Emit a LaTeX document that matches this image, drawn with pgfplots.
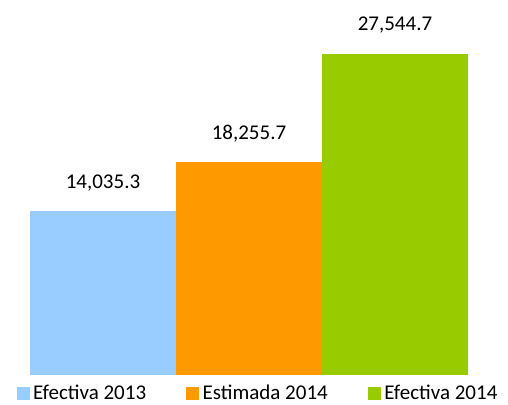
\documentclass[border=0pt]{standalone}
\usepackage{pgfplots}
\pgfplotsset{compat=1.18}
\usepackage{fontspec}
\setmainfont{Carlito}

\definecolor{cblue}{HTML}{99CCFF}
\definecolor{corange}{HTML}{FF9900}
\definecolor{cgreen}{HTML}{99CC00}

\begin{document}
\begin{tikzpicture}
\useasboundingbox (-30pt,-29pt) rectangle (478pt,375pt);
\begin{axis}[
    at={(0pt,0pt)}, anchor=south west,
    scale only axis,
    width=438pt, height=375pt,
    xmin=0, xmax=3,
    ymin=0, ymax=32180,
    axis lines=none,
    clip=false,
    ybar, bar width=1, bar shift=0pt,
    point meta=explicit symbolic,
    nodes near coords,
    nodes near coords style={font=\fontsize{21}{25}\selectfont, yshift=17pt},
    legend columns=3,
    legend style={draw=none, fill=none, at={(0.5,0)}, anchor=north,
        yshift=-6pt, xshift=9pt,
        font=\fontsize{21}{25}\selectfont,
        /tikz/every odd column/.append style={column sep=1.5pt},
        /tikz/every even column/.append style={column sep=38pt}},
    legend image code/.code={\fill[#1] (0pt,-7pt) rectangle (13pt,6pt);},
]
\addplot[fill=cblue, draw=none] coordinates {(0.5,14035.3) [14,035.3]};
\addlegendentry{Efectiva 2013}
\addplot[fill=corange, draw=none] coordinates {(1.5,18255.7) [18,255.7]};
\addlegendentry{Estimada 2014}
\addplot[fill=cgreen, draw=none] coordinates {(2.5,27544.7) [27,544.7]};
\addlegendentry{Efectiva 2014}
\end{axis}
\end{tikzpicture}
\end{document}
